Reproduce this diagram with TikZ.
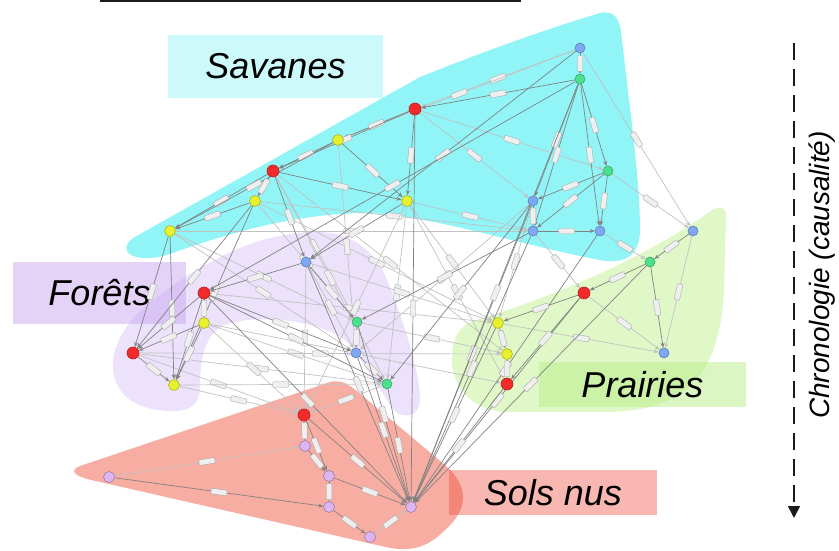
\documentclass[tikz,border=0pt]{standalone}
\usepackage{fontspec}
\setmainfont{Liberation Sans}
\usetikzlibrary{arrows.meta,backgrounds}
\definecolor{ink}      {HTML}{1B1B1B}
\definecolor{savfill}  {HTML}{91F5F7}
\definecolor{forfill}  {HTML}{EDE2FB}
\definecolor{prafill}  {HTML}{E0F8C8}
\definecolor{solfill}  {HTML}{F8ADA3}
\definecolor{savbox}   {HTML}{99F5F5}
\definecolor{forbox}   {HTML}{C9A8F0}
\definecolor{prabox}   {HTML}{B8EE88}
\definecolor{solbox}   {HTML}{F04A3C}
\definecolor{vred}     {HTML}{F22A2A}
\definecolor{vyellow}  {HTML}{E6F02E}
\definecolor{vgreen}   {HTML}{4CE08C}
\definecolor{vblue}    {HTML}{7EA8F2}
\definecolor{vpurple}  {HTML}{DDB5F2}
\tikzset{
  >={Stealth[length=5pt,width=4pt]},
  % --- nodes
  v/.style    = {circle, inner sep=0pt, minimum size=10pt, line width=0.6pt},
  vr/.style   = {v, minimum size=12pt, fill=vred, draw=vred!75!black},
  vy/.style   = {v, minimum size=11pt, fill=vyellow, draw=vyellow!75!black},
  vg/.style   = {v, fill=vgreen, draw=vgreen!75!black},
  vb/.style   = {v, fill=vblue, draw=vblue!75!black},
  vp/.style   = {v, minimum size=11pt, fill=vpurple, draw=vpurple!70!black},
  zone/.style = {font=\fontsize{36}{40}\selectfont\itshape, text=black, inner sep=0pt,
                 fill opacity=0.5, text opacity=1},
  elab/.style = {sloped, fill=ink!7, draw=ink!40, line width=0.35pt, inner sep=0pt,
                 minimum width=16pt, minimum height=5.5pt, rounded corners=0.8pt},
  % --- edges
  e/.style    = {->, draw=ink!55, line width=0.7pt},
  el/.style   = {->, draw=ink!27, line width=0.7pt},
}
\begin{document}
\begin{tikzpicture}[x=1pt,y=-1pt]
  \useasboundingbox (0,0) rectangle (839,551);

  % --- graph nodes
  \node[vb] (sB1) at (580,48) {};
  \node[vg] (sG1) at (580,79) {};
  \node[vr] (sR1) at (415,109) {};
  \node[vy] (sY1) at (338,140) {};
  \node[vr] (sR2) at (273,171) {};
  \node[vy] (sY2) at (255,201) {};
  \node[vy] (sY3) at (407,201) {};
  \node[vy] (sY4) at (170,231) {};
  \node[vg] (sG2) at (608,171) {};
  \node[vb] (sB2) at (533,201) {};
  \node[vb] (sB3) at (533,231) {};
  \node[vb] (sB4) at (600,231) {};
  \node[vb] (fB1) at (306,262) {};
  \node[vr] (fR1) at (204,293) {};
  \node[vy] (fY1) at (204,323) {};
  \node[vr] (fR2) at (133,353) {};
  \node[vy] (fY2) at (174,385) {};
  \node[vg] (fG1) at (357,322) {};
  \node[vb] (fB2) at (356,353) {};
  \node[vg] (fG2) at (387,384) {};
  \node[vb] (pB1) at (693,231) {};
  \node[vg] (pG1) at (650,262) {};
  \node[vr] (pR1) at (584,293) {};
  \node[vy] (pY1) at (498,323) {};
  \node[vy] (pY2) at (507,354) {};
  \node[vr] (pR2) at (507,384) {};
  \node[vb] (pB2) at (664,353) {};
  \node[vr] (nR1) at (304,415) {};
  \node[vp] (nP1) at (305,446) {};
  \node[vp] (nP2) at (109,477) {};
  \node[vp] (nP3) at (329,476) {};
  \node[vp] (nP4) at (329,507) {};
  \node[vp] (nP5) at (411,507) {};
  \node[vp] (nP6) at (370,537) {};

  \begin{scope}[on background layer]
  % --- regions
  \fill[savfill] (133,238) -- (420,77) .. controls (500,45) and (560,25) .. (600,13)
    .. controls (615,10) and (620,18) .. (622,40) .. controls (630,110) and (640,180) .. (640,230)
    .. controls (640,255) and (625,265) .. (600,260) .. controls (520,245) and (430,215) .. (367,213)
    .. controls (300,213) and (230,232) .. (167,255) .. controls (135,264) and (115,252) .. (133,238) -- cycle;
  \fill[forfill] (113,370) .. controls (110,345) and (130,315) .. (160,295)
    .. controls (200,265) and (250,235) .. (310,232) .. controls (345,230) and (370,245) .. (385,275)
    .. controls (400,310) and (420,370) .. (420,400) .. controls (420,418) and (400,420) .. (392,408)
    .. controls (380,390) and (365,365) .. (350,345) .. controls (330,322) and (260,312) .. (225,325)
    .. controls (205,333) and (200,360) .. (200,385) .. controls (200,405) and (190,412) .. (170,411)
    .. controls (130,410) and (115,390) .. (113,370) -- cycle;
  \fill[prafill] (470,322) .. controls (560,295) and (650,255) .. (712,210)
    .. controls (722,205) and (727,208) .. (726,220) -- (724,290)
    .. controls (720,370) and (690,410) .. (610,412) -- (510,412)
    .. controls (470,412) and (452,385) .. (452,360) .. controls (452,340) and (458,328) .. (470,322) -- cycle;
  \fill[solfill] (80,466) -- (330,382) .. controls (340,379) and (350,385) .. (358,392) -- (445,465)
    .. controls (470,487) and (468,510) .. (445,530) .. controls (430,545) and (415,552) .. (390,548)
    -- (100,482) .. controls (70,476) and (70,470) .. (80,466) -- cycle;

  % --- region labels
  \node[zone, fill=savbox, minimum width=215pt, minimum height=63pt] (savanes) at (275.5,66.5) {Savanes};
  \node[zone, fill=forbox, minimum width=173pt, minimum height=62pt] (forets) at (99.5,293) {Forêts};
  \node[zone, fill=prabox, minimum width=207pt, minimum height=45pt] (prairies) at (642.5,384.5) {Prairies};
  \node[zone, fill=solbox, fill opacity=0.4, minimum width=208pt, minimum height=45pt] (solsnus) at (553,492.5) {Sols nus};

  % --- edges, light first
  \foreach \a/\b in {sB1/sR1, sB1/sY1, sR1/sB2, sR1/sG2, sY2/sB3, sY4/sB3, sY3/sB3, sB1/pB1,
                     sB4/pG1, sB3/pR1, sY3/fG2, sY4/fB2, sR2/fG1, fR2/fG2, fY2/nR1, fR2/nR1,
                     fY1/nR1, fB1/nR1, fG2/nR1, nP2/nP1, pB1/pB2, pY1/pB2, pR1/pB2, fB1/pY1,
                     fG1/pY2, fY1/pR2, sY2/fG1, fY2/fG2, nP6/nP5, sY3/pY1, fR1/pY1, sY4/fG1,
                     sY2/pY1, sR2/pY2, sY3/pR2, sB2/fB2, sR2/fG2, sY1/fB2, fY1/fG2, fR2/pY2,
                     sB2/pY1, sY3/nR1, fB1/fB2, sG2/pB1}
    \draw[el] (\a) -- node[elab] {} (\b);
  \foreach \a/\b in {sR1/sY1, sR1/sR2, sY1/sR2, sR2/sY4, sY1/sY4, sY2/sY4, sR2/sY2, sR1/sY3,
                     sR2/sY3, sY1/sY3, sG1/sR1, sB1/sG1, sG1/sB2, sG1/sB3, sG1/sB4, sG1/sG2,
                     sG2/sB2, sG2/sB3, sG2/sB4, sB2/sB3, sB3/sB4,
                     sY4/fR2, sY4/fY2, sY2/fR2, sY2/fY2, sR2/fB1, sY3/fB1, sB1/fB1, sG1/fR1,
                     sB3/fG1, sB2/fG2,
                     fB1/fR1, fB1/fG1, fG1/fB2, fB2/fG2, fR1/fY1, fR1/fR2, fY1/fR2, fR2/fY2,
                     fR1/fY2, fY1/fY2, fR1/fG2, fR1/fB2,
                     sR1/nP5, sB2/nP5, sB3/nP5, sB4/nP5, sG1/nP5, fB1/nP5, fG1/nP5, fB2/nP5,
                     fG2/nP5, fR1/nP5, nR1/nP5, nP3/nP5, pY1/nP5, pR1/nP5, pR2/nP5, pG1/nP5,
                     nR1/nP1, nP1/nP3, nR1/nP3, nP3/nP4, nP2/nP4, nP4/nP6,
                     pG1/pR1, pR1/pY1, pY1/pY2, pY2/pR2, pG1/pB2, pB1/pG1, pR1/pR2}
    \draw[e] (\a) -- node[elab] {} (\b);
  \end{scope}

  % --- timeline
  \draw[ink, line width=2.4pt] (100,1.3) coordinate (rl) -- (521,1.3) coordinate (rr);
  \coordinate (t0) at (794,43);
  \coordinate (t1) at (794,518);
  \draw[ink, line width=1.6pt, dash pattern=on 17pt off 9pt,
        -{Triangle[length=12pt,width=12pt]}] (t0) -- (t1);
  \node[rotate=90, font=\fontsize{28}{32}\selectfont\itshape] (chrono) at (822,275)
    {Chronologie (causalité)};
\end{tikzpicture}
\end{document}
